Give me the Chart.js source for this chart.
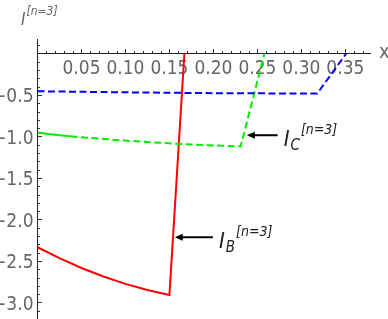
<!DOCTYPE html>
<html><head><meta charset="utf-8">
<script src="https://cdn.jsdelivr.net/npm/chart.js@4/dist/chart.umd.min.js"></script>
<style>html,body{margin:0;padding:0;background:#fff}#wrap{width:388px;height:319px;position:relative}</style>
</head><body><div id="wrap"><canvas id="c" width="388" height="319"></canvas></div>
<script>
// ---- data ----
const blueX  = [0, 0.1, 0.2, 0.318, 0.351];
const blueY  = [-0.455, -0.468, -0.478, -0.483, 0];
const greenX = [0, 0.0125, 0.025, 0.0375, 0.05, 0.075, 0.1, 0.125, 0.15, 0.175, 0.2, 0.231, 0.258];
const greenY = [-0.952, -0.97, -0.985, -0.998, -1.01, -1.03, -1.05, -1.067, -1.083, -1.097, -1.108, -1.12, 0];
const redX   = [0, 0.025, 0.05, 0.075, 0.1, 0.125, 0.15, 0.167];
const redY   = [-2.335, -2.467, -2.585, -2.688, -2.777, -2.851, -2.91, 0];
const xMajorTicks = [0.05, 0.10, 0.15, 0.20, 0.25, 0.30, 0.35];
const yMajorTicks = [-3.0, -2.5, -2.0, -1.5, -1.0, -0.5];
const yTitle = ['I', '[n=3]'];
const xTitle = 'x';
const annotations = [
  {sub: 'C', sup: '[n=3]', tipX: 0.238, tailX: 0.273, y: -0.985},
  {sub: 'B', sup: '[n=3]', tipX: 0.156, tailX: 0.1994, y: -2.214}
];

const FONT = '"Liberation Sans Narrow", "Arial Narrow", "DejaVu Sans Condensed", sans-serif';
const LABEL = '#666666';
const pts = (xs, ys) => xs.map((x, i) => ({x, y: ys[i]}));
const isIn = (v, arr) => arr.some(a => Math.abs(a - v) < 1e-6);
const DASH = [7, 3.5];

const decor = {
  id: 'decor',
  beforeDatasetsDraw(chart) {
    const {ctx, scales: {x, y}} = chart;
    const y0 = y.getPixelForValue(0), x0 = x.getPixelForValue(0);
    ctx.save();
    ctx.strokeStyle = '#333'; ctx.lineWidth = 1;
    x.ticks.forEach(t => {
      if (t.value <= 1e-9) return;
      const px = Math.round(x.getPixelForValue(t.value)) + 0.5;
      const len = isIn(t.value, xMajorTicks) ? 4.5 : 2.5;
      ctx.beginPath(); ctx.moveTo(px, y0); ctx.lineTo(px, y0 - len); ctx.stroke();
    });
    y.ticks.forEach(t => {
      if (Math.abs(t.value) < 1e-9) return;
      const py = Math.round(y.getPixelForValue(t.value)) + 0.5;
      const len = isIn(t.value, yMajorTicks) ? 4.5 : 2.5;
      ctx.beginPath(); ctx.moveTo(x0, py); ctx.lineTo(x0 + len, py); ctx.stroke();
    });
    ctx.restore();
  },
  afterDraw(chart) {
    const {ctx, scales: {x, y}} = chart;
    ctx.save();
    // axis titles
    ctx.fillStyle = LABEL; ctx.textBaseline = 'alphabetic'; ctx.textAlign = 'left';
    ctx.font = 'italic 17px ' + FONT;
    ctx.fillText(yTitle[0], 21, 25);
    const wI = ctx.measureText(yTitle[0]).width;
    ctx.font = 'italic 12px ' + FONT;
    ctx.fillText(yTitle[1], 21 + wI + 1, 15);
    ctx.font = '20px ' + FONT; ctx.textBaseline = 'middle';
    ctx.fillText(xTitle, 379, y.getPixelForValue(0) - 1);
    // annotations
    annotations.forEach(a => {
      const tip = x.getPixelForValue(a.tipX), tail = x.getPixelForValue(a.tailX), py = y.getPixelForValue(a.y);
      ctx.strokeStyle = '#000'; ctx.fillStyle = '#000'; ctx.lineWidth = 2;
      ctx.beginPath(); ctx.moveTo(tail, py); ctx.lineTo(tip + 6, py); ctx.stroke();
      ctx.beginPath(); ctx.moveTo(tip, py); ctx.lineTo(tip + 8, py - 3.5); ctx.lineTo(tip + 8, py + 3.5); ctx.closePath(); ctx.fill();
      ctx.fillStyle = '#222'; ctx.textBaseline = 'alphabetic'; ctx.textAlign = 'left';
      let tx = tail + 6; const base = py + 11;
      ctx.font = 'italic 22px ' + FONT; ctx.fillText('I', tx, base); tx += ctx.measureText('I').width + 1;
      ctx.font = 'italic 15px ' + FONT; ctx.fillText(a.sub, tx, base + 4); tx += ctx.measureText(a.sub).width + 1;
      ctx.font = 'italic 14px ' + FONT; ctx.fillText(a.sup, tx, base - 12);
    });
    ctx.restore();
  }
};

new Chart(document.getElementById('c'), {
  type: 'scatter',
  data: {datasets: [
    {data: pts(blueX, blueY), borderColor: '#0000ff', borderWidth: 2, borderDash: DASH, showLine: true, pointRadius: 0, tension: 0, fill: false},
    {data: pts(greenX, greenY), borderColor: '#00ee00', borderWidth: 2, showLine: true, pointRadius: 0, tension: 0, fill: false,
      segment: {borderDash: c => (c.p1.parsed.x <= 0.0375 + 1e-9 ? [] : DASH)}},
    {data: pts(redX, redY), borderColor: '#ff0000', borderWidth: 2, showLine: true, pointRadius: 0, tension: 0, fill: false}
  ]},
  options: {
    responsive: false, animation: false, devicePixelRatio: 1,
    layout: {padding: {left: 0, top: 39.4, right: 18, bottom: 0}},
    plugins: {legend: {display: false}, tooltip: {enabled: false}},
    scales: {
      x: {type: 'linear', position: {y: 0}, min: 0, max: 0.378,
        grid: {display: false, drawTicks: false},
        border: {display: true, color: '#222', width: 1},
        ticks: {stepSize: 0.01, autoSkip: false, maxRotation: 0, minRotation: 0, includeBounds: false, padding: 4, color: LABEL,
          font: {family: FONT, size: 19},
          callback: v => (isIn(v, xMajorTicks) ? v.toFixed(2) : '')}
      },
      y: {type: 'linear', position: 'left', min: -3.2, max: 0.17,
        grid: {display: false, drawTicks: false},
        border: {display: true, color: '#222', width: 1},
        ticks: {stepSize: 0.1, autoSkip: false, includeBounds: false, padding: 4, labelOffset: 2.5, color: LABEL,
          font: {family: FONT, size: 19},
          callback: v => (isIn(v, yMajorTicks) ? '\u2212' + Math.abs(v).toFixed(1) : '')},
        afterFit: s => { s.width = 37.5; s.paddingTop = 0; s.paddingBottom = 0; }
      }
    }
  },
  plugins: [decor]
});
</script></body></html>
